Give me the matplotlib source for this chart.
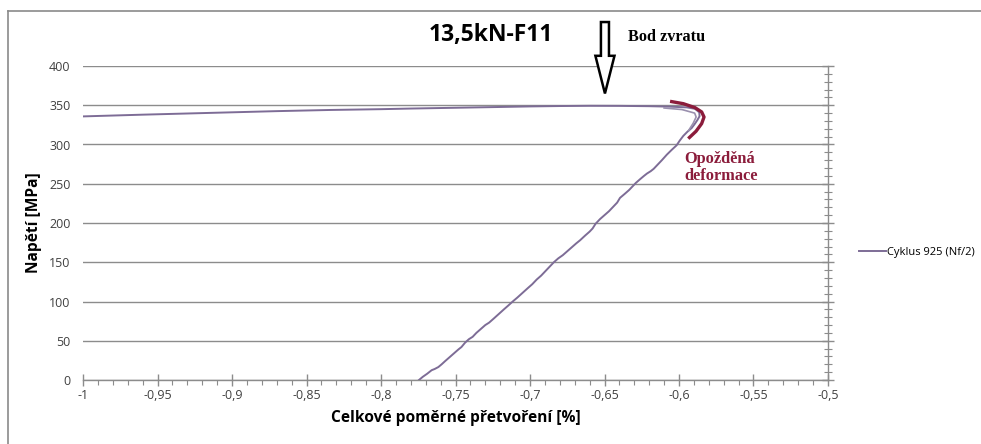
import matplotlib
matplotlib.use("Agg")
import matplotlib.pyplot as plt
from matplotlib.ticker import FixedLocator, MultipleLocator, FixedFormatter
from matplotlib.patches import FancyArrow
from matplotlib.lines import Line2D

# ---------------- data ----------------
title = "13,5kN-F11"
series_name = "Cyklus 925 (Nf/2)"
x_label = "Celkové poměrné přetvoření [%]"
y_label = "Napětí [MPa]"

strain = [-0.7745, -0.7720, -0.7690, -0.7660, -0.7640, -0.7615, -0.7593, -0.7570,
          -0.7540, -0.7510, -0.7480, -0.7460, -0.7436, -0.7410, -0.7385, -0.7360,
          -0.7330, -0.7300, -0.7275, -0.7245, -0.7210, -0.7175, -0.7145, -0.7116,
          -0.7085, -0.7050, -0.7015, -0.6985, -0.6955, -0.6925, -0.6895, -0.6865,
          -0.6840, -0.6810, -0.6780, -0.6750, -0.6720, -0.6690, -0.6664, -0.6630,
          -0.6600, -0.6580, -0.6560, -0.6530, -0.6500, -0.6470, -0.6440, -0.6415,
          -0.6396, -0.6365, -0.6335, -0.6310, -0.6290, -0.6260, -0.6235, -0.6215,
          -0.6190, -0.6170, -0.6145, -0.6115, -0.6082, -0.6050, -0.6016, -0.5995,
          -0.5971, -0.5945, -0.5915, -0.5895, -0.5877, -0.5862, -0.5864, -0.5893,
          -0.5948, -0.6060, -0.620, -0.640, -0.660, -0.680, -0.700, -0.720,
          -0.750, -0.780, -0.800, -0.834, -0.870, -0.900, -0.930, -0.960, -1.000]
stress = [0, 4, 8, 12.5, 14, 16.5, 20, 24,
          29, 34, 39, 42, 47.5, 52, 55, 60,
          65, 70, 73, 78, 84, 90, 95, 100,
          105, 111, 117, 122, 128, 133, 139, 145,
          150, 155, 159, 164, 169, 174, 178, 184,
          189, 193, 199, 205, 210, 215, 221, 226,
          232, 237, 242, 247, 251, 256, 260, 263,
          266, 269, 274, 280, 287, 293, 299, 305,
          311, 316, 321, 326, 331, 336, 341, 345.5,
          347.3, 348.2, 348.8, 349.2, 349.3, 349.0, 348.5, 347.8,
          346.8, 345.8, 345.0, 344.0, 342.5, 341.0, 339.5, 338.0, 335.8]

# second (inner) trace near the reversal point
inner_strain = [-0.6100, -0.5980, -0.5895, -0.5885, -0.5905, -0.5935]
inner_stress = [346.5, 344.5, 340.0, 335.0, 327.0, 318.0]

# hand-drawn annotation curve ("Opožděná deformace")
mark_strain = [-0.6060, -0.5971, -0.5893, -0.5848, -0.5832, -0.5848, -0.5886, -0.5938]
mark_stress = [355.0, 352.0, 347.0, 341.5, 335.0, 326.6, 316.8, 307.5]

x_ticks = [-1.0, -0.95, -0.9, -0.85, -0.8, -0.75, -0.7, -0.65, -0.6, -0.55, -0.5]
x_tick_labels = ["-1", "-0,95", "-0,9", "-0,85", "-0,8", "-0,75", "-0,7",
                 "-0,65", "-0,6", "-0,55", "-0,5"]
y_ticks = [0, 50, 100, 150, 200, 250, 300, 350, 400]
y_tick_labels = ["0", "50", "100", "150", "200", "250", "300", "350", "400"]

# ---------------- figure ----------------
W, H = 981, 444
fig = plt.figure(figsize=(W / 100, H / 100), dpi=100)
fig.patch.set_facecolor("white")
ax = fig.add_axes([83 / W, 1 - 380 / H, (828 - 83) / W, (380 - 66) / H])

sans = "Open Sans"
line_col = "#7D6C96"
grid_col = "#8C8C8C"
tick_col = "#404040"

ax.plot(strain, stress, color=line_col, lw=1.4, label=series_name,
        solid_joinstyle="round", zorder=3)
ax.plot(inner_strain, inner_stress, color="#9A90AE", lw=1.2, zorder=3)
ax.plot(mark_strain, mark_stress, color="#8B1C3B", lw=2.4,
        solid_capstyle="butt", zorder=4, clip_on=False)

ax.set_xlim(-1.0, -0.5)
ax.set_ylim(0, 400)

for s in ["top", "left"]:
    ax.spines[s].set_visible(False)
for s in ["bottom", "right"]:
    ax.spines[s].set_color(grid_col)
    ax.spines[s].set_linewidth(1.0)

ax.yaxis.grid(True, color=grid_col, lw=1.0)
ax.set_axisbelow(True)

ax.xaxis.set_major_locator(FixedLocator(x_ticks))
ax.xaxis.set_major_formatter(FixedFormatter(x_tick_labels))
ax.xaxis.set_minor_locator(MultipleLocator(0.01))
ax.yaxis.set_major_locator(FixedLocator(y_ticks))
ax.yaxis.set_major_formatter(FixedFormatter(y_tick_labels))
ax.yaxis.set_minor_locator(MultipleLocator(10))

ax.tick_params(axis="x", which="major", direction="inout", length=9, width=1,
               color=grid_col, labelsize=9, labelcolor=tick_col, pad=2)
ax.tick_params(axis="x", which="minor", direction="out", length=3.5, width=0.8,
               color=grid_col)
ax.tick_params(axis="y", which="both", left=False, right=True, labelleft=True,
               labelright=False, direction="inout", color=grid_col)
ax.tick_params(axis="y", which="major", length=8, width=1, labelsize=9,
               labelcolor=tick_col, pad=5)
ax.tick_params(axis="y", which="minor", length=6, width=0.8)
for lab in ax.get_xticklabels() + ax.get_yticklabels():
    lab.set_fontfamily(sans)

ax.set_xlabel(x_label, fontfamily=sans, fontweight="bold", fontsize=11.2,
              labelpad=6)
ax.set_ylabel(y_label, fontfamily=sans, fontweight="bold", fontsize=11.2,
              labelpad=5)

# title
fig.text(491 / W, 1 - 35 / H, title, ha="center", va="center",
         fontfamily=sans, fontweight="bold", fontsize=16.5)

# hollow block arrow "Bod zvratu"
arrow = FancyArrow(-0.6497, 456, 0, -91, width=0.0054, head_width=0.0128,
                   head_length=48, length_includes_head=True,
                   facecolor="white", edgecolor="black", lw=1.8,
                   clip_on=False, zorder=5)
ax.add_patch(arrow)
ax.text(-0.634, 437, "Bod zvratu", ha="left", va="center",
        fontfamily="Liberation Serif", fontweight="bold", fontsize=11.7,
        clip_on=False)

ax.text(-0.5966, 271, "Opožděná\ndeformace", ha="left", va="center",
        fontfamily="Liberation Serif", fontweight="bold", fontsize=11.8,
        color="#8B1C3B", linespacing=1.05)

# legend
fig.legend(loc="center left", bbox_to_anchor=(855 / W, 1 - 252 / H),
           frameon=False, handlelength=2.4, handletextpad=0.1,
           prop={"family": sans, "size": 8.0}, borderaxespad=0)

# outer chart frame (top and left edges visible)
fig.add_artist(Line2D([8 / W, 1.0], [1 - 11 / H, 1 - 11 / H],
                      transform=fig.transFigure, color="#8A8A8A", lw=1.2))
fig.add_artist(Line2D([8 / W, 8 / W], [1 - 11 / H, 0.0],
                      transform=fig.transFigure, color="#8A8A8A", lw=1.2))

fig.savefig("out.png", dpi=100)
